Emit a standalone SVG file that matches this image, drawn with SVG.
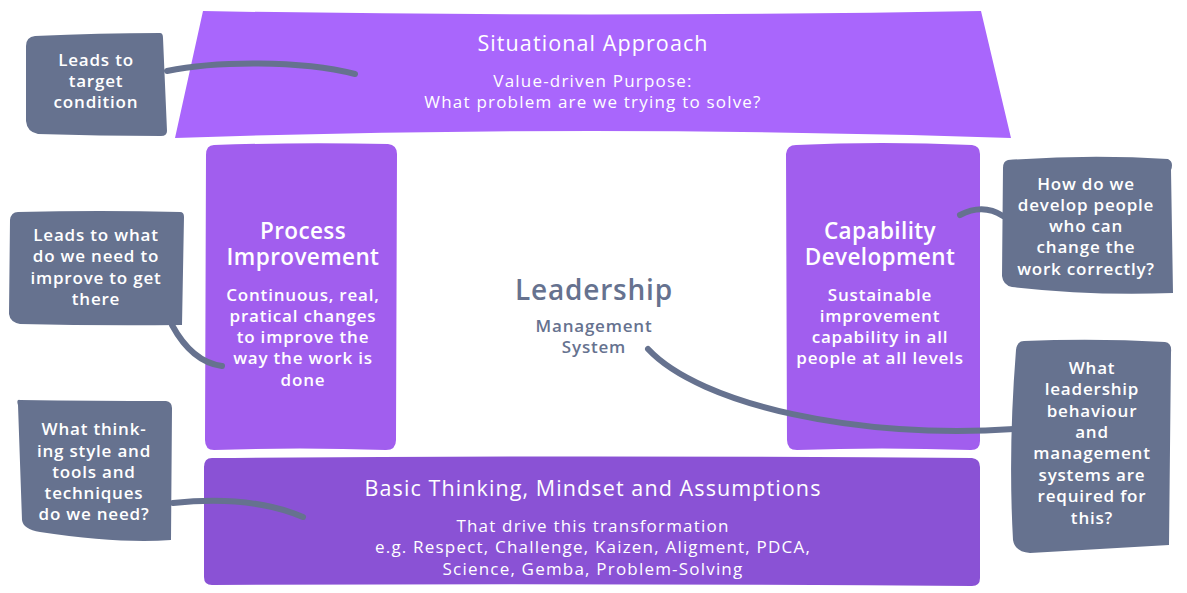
<svg xmlns="http://www.w3.org/2000/svg" width="1187" height="593" viewBox="0 0 1187 593">
<style>
text{font-family:"Open Sans","Liberation Sans",sans-serif;fill:#fff;text-anchor:middle}
.t{font-size:21.5px;font-weight:500;letter-spacing:1.1px}
.h{font-size:22.5px;font-weight:600;letter-spacing:0.4px}
.b{font-size:17px;font-weight:500;letter-spacing:1.2px}
.s{font-size:17px;font-weight:600;letter-spacing:0.8px}
.c{font-size:17px;font-weight:600;letter-spacing:0.8px}
.g{fill:#66728f}
.conn{fill:none;stroke:#66728f;stroke-width:6;stroke-linecap:round}
</style>
<rect width="1187" height="593" fill="#fff"/>
<g id="situational-approach">
<path d="M203,11 Q590,18 981,11 L1011,138 Q590,124 175,138 Z" fill="#a966fc"/>
<text class="t" x="593" y="51">Situational Approach</text>
<text class="b" x="593" y="87">Value-driven Purpose:</text>
<text class="b" x="593" y="108">What problem are we trying to solve?</text>
</g>
<g id="process-improvement">
<path d="M214,145 Q300,142 388,144 Q397,145 397,154 L396,440 Q396,450 386,450 Q300,447 214,450 Q205,450 205,440 L206,155 Q206,145 214,145 Z" fill="#a15eee"/>
<text class="h" x="303" y="239">Process</text>
<text class="h" x="303" y="265">Improvement</text>
<text class="s" x="303" y="301">Continuous, real,</text>
<text class="s" x="303" y="322">pratical changes</text>
<text class="s" x="303" y="343">to improve the</text>
<text class="s" x="303" y="364">way the work is</text>
<text class="s" x="303" y="386">done</text>
</g>
<g id="capability-development">
<path d="M796,145 Q880,141 972,145 Q980,146 980,154 L980,441 Q980,450 971,450 Q880,447 797,450 Q787,450 787,440 L786,154 Q787,145 796,145 Z" fill="#a15eee"/>
<text class="h" x="880" y="239">Capability</text>
<text class="h" x="880" y="265">Development</text>
<text class="s" x="880" y="301">Sustainable</text>
<text class="s" x="880" y="322">improvement</text>
<text class="s" x="880" y="343">capability in all</text>
<text class="s" x="880" y="364">people at all levels</text>
</g>
<g id="basic-thinking">
<path d="M212,458 Q590,455 972,458 Q980,459 980,467 L980,578 Q980,586 972,586 Q590,583 212,585 Q204,585 204,577 L204,467 Q204,458 212,458 Z" fill="#8a52d5"/>
<text class="t" x="593" y="496">Basic Thinking, Mindset and Assumptions</text>
<text class="b" x="593" y="532">That drive this transformation</text>
<text class="b" x="593" y="553">e.g. Respect, Challenge, Kaizen, Aligment, PDCA,</text>
<text class="b" x="593" y="575">Science, Gemba, Problem-Solving</text>
</g>
<g id="leadership">
<text class="g" x="594" y="300" style="font-size:28px;font-weight:600;letter-spacing:0.8px">Leadership</text>
<text class="g s" x="594" y="332">Management</text>
<text class="g s" x="594" y="353">System</text>
</g>
<g id="connectors">
<path class="conn" d="M167,71 C215,61 300,60 355,74"/>
<path class="conn" d="M172,325 Q192,362 222,366"/>
<path class="conn" d="M173,503 C230,497 270,503 303,517"/>
<path class="conn" d="M960,215 Q983,203 1003,216"/>
<path class="conn" d="M648,349 C700,405 860,440 1014,429"/>
</g>
<g id="callout-target-condition">
<path d="M35,36 Q100,33 160,33 Q163,33 163,38 L167,131 Q167,136 161,136 Q100,136 38,134 Q27,132 26,121 L26,46 Q26,37 35,36 Z" fill="#66728f"/>
<text class="c" x="96" y="66">Leads to</text>
<text class="c" x="96" y="87">target</text>
<text class="c" x="96" y="108">condition</text>
</g>
<g id="callout-improve">
<path d="M18,212 Q100,210 180,212 Q184,212 184,217 L182,325 Q100,326 20,324 Q10,322 9,314 L10,220 Q11,212 18,212 Z" fill="#66728f"/>
<text class="c" x="96" y="241">Leads to what</text>
<text class="c" x="96" y="262">do we need to</text>
<text class="c" x="96" y="284">improve to get</text>
<text class="c" x="96" y="305">there</text>
</g>
<g id="callout-thinking">
<path d="M20,400 Q95,401 166,401 Q172,402 172,408 L171,540 Q120,544 40,532 Q23,529 22,520 L18,405 Q16,399 20,400 Z" fill="#66728f"/>
<text class="c" x="94" y="435">What think-</text>
<text class="c" x="94" y="457">ing style and</text>
<text class="c" x="94" y="478">tools and</text>
<text class="c" x="94" y="499">techniques</text>
<text class="c" x="94" y="520">do we need?</text>
</g>
<g id="callout-develop-people">
<path d="M1008,160 Q1090,154 1168,159 Q1174,162 1171,170 L1173,293 Q1090,296 1012,287 Q1003,285 1002,276 L1003,168 Q1003,161 1008,160 Z" fill="#66728f"/>
<text class="c" x="1086" y="190">How do we</text>
<text class="c" x="1086" y="211">develop people</text>
<text class="c" x="1086" y="232">who can</text>
<text class="c" x="1086" y="253">change the</text>
<text class="c" x="1086" y="275">work correctly?</text>
</g>
<g id="callout-leadership">
<path d="M1024,341 Q1095,338 1165,342 Q1172,343 1171,352 L1169,545 Q1100,549 1030,553 Q1015,552 1013,540 Q1008,450 1016,350 Q1017,341 1024,341 Z" fill="#66728f"/>
<text class="c" x="1092" y="374">What</text>
<text class="c" x="1092" y="395">leadership</text>
<text class="c" x="1092" y="417">behaviour</text>
<text class="c" x="1092" y="438">and</text>
<text class="c" x="1092" y="459">management</text>
<text class="c" x="1092" y="481">systems are</text>
<text class="c" x="1092" y="502">required for</text>
<text class="c" x="1092" y="524">this?</text>
</g>
</svg>
